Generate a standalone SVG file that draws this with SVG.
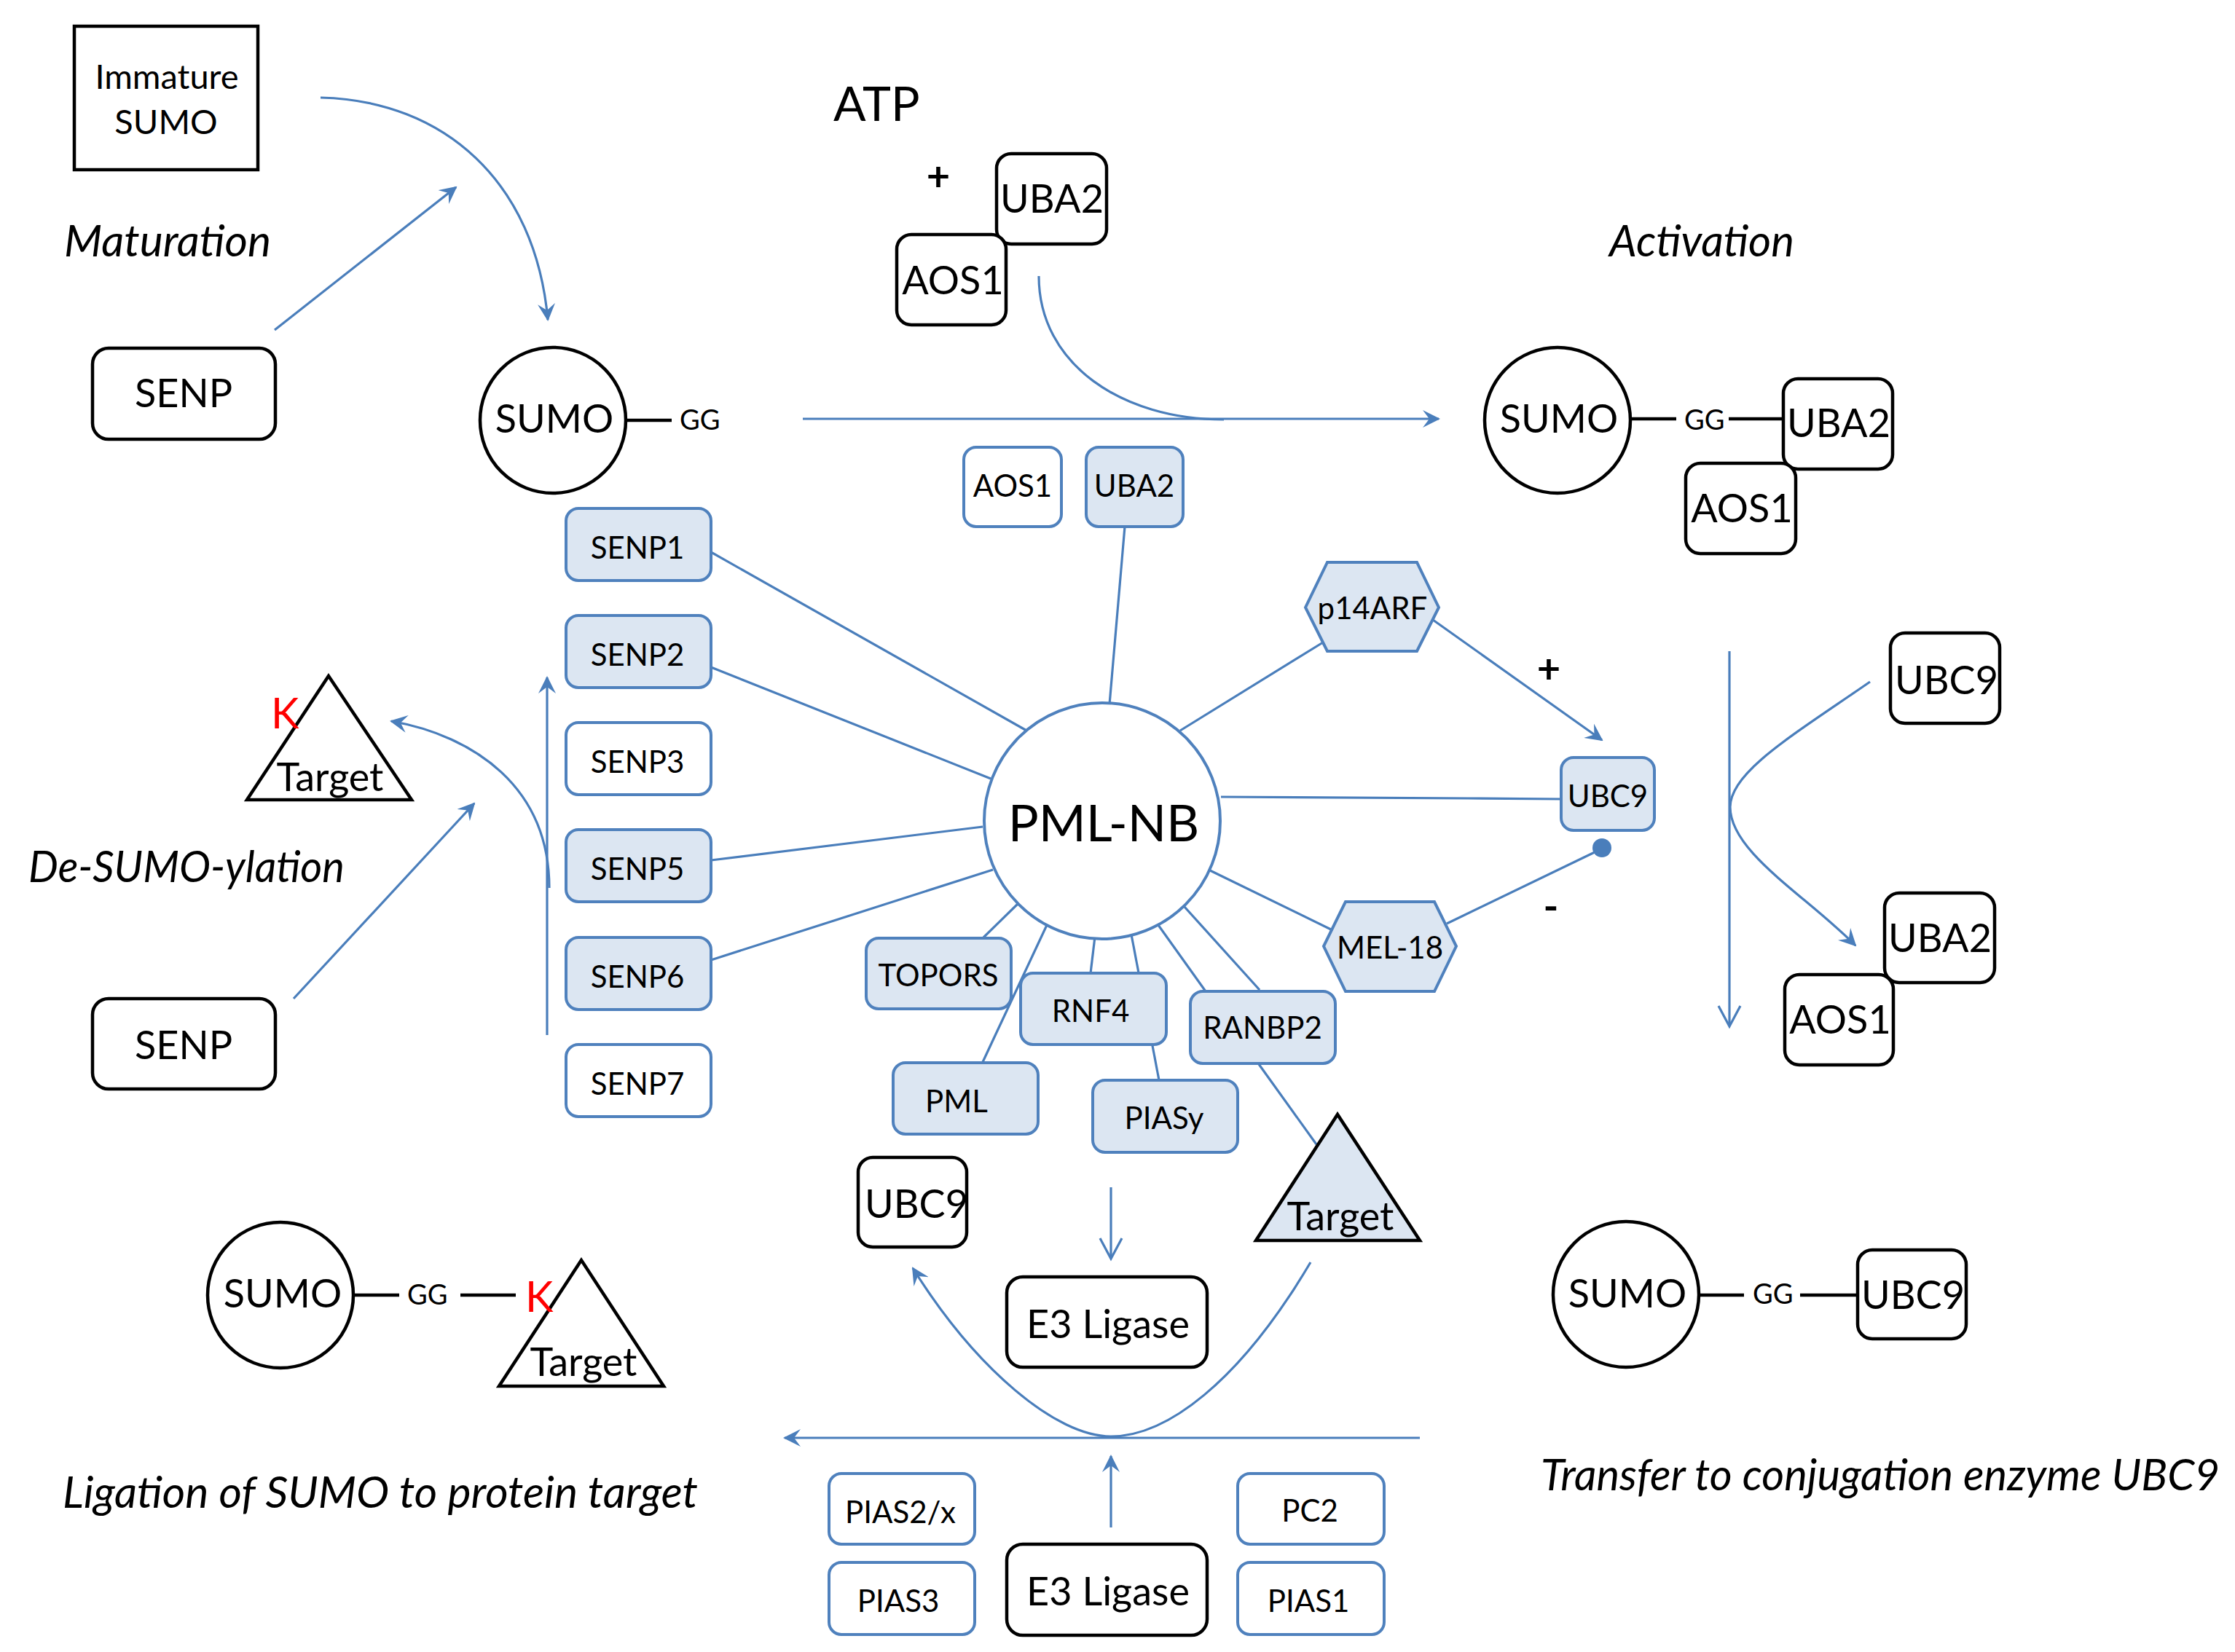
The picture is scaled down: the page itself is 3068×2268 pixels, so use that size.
<svg xmlns="http://www.w3.org/2000/svg" width="3068" height="2268" viewBox="0 0 3068 2268">
<defs>
<style>
text{font-family:Lato,"Liberation Sans",sans-serif;fill:#000}
.big{font-size:54px}
.sm{font-size:42px}
.gg{font-size:38px}
.it{font-size:60px;font-style:italic}
.k{font-size:58px;fill:#ff0000}
.c{text-anchor:middle}
.bk{fill:#fff;stroke:#000;stroke-width:4.5}
.bl{fill:#dce6f2;stroke:#4f81bd;stroke-width:4}
.bw{fill:#fff;stroke:#4f81bd;stroke-width:4}
.ln{fill:none;stroke:#4a7ebb;stroke-width:3.2}
.kl{fill:none;stroke:#000;stroke-width:4.5}
.ar{marker-end:url(#st)}
.ao{marker-end:url(#op)}
</style>
<marker id="st" viewBox="0 0 24 24" refX="22" refY="12" markerWidth="24" markerHeight="24" markerUnits="userSpaceOnUse" orient="auto">
<path d="M0,0 L24,12 L0,24 L9,12 Z" fill="#4a7ebb"/>
</marker>
<marker id="op" viewBox="-2 -2 34 34" refX="28" refY="15" markerWidth="34" markerHeight="34" markerUnits="userSpaceOnUse" orient="auto">
<path d="M0,0 L28,15 L0,30" fill="none" stroke="#4a7ebb" stroke-width="3.2"/>
</marker>
</defs>
<rect width="3068" height="2268" fill="#fff"/>

<g id="connectors">
<path class="ln ar" d="M440,134 C610,138 735,250 752,439"/>
<path class="ln ar" d="M377,453 L626,257"/>
<path class="ln ar" d="M1102,575 L1975,575"/>
<path class="ln" d="M1426,379 C1426,500 1540,576 1680,576"/>
<path class="ln" d="M976,758 L1411,1004"/>
<path class="ln" d="M976,916 L1360,1069"/>
<path class="ln" d="M976,1181 L1349,1135"/>
<path class="ln" d="M976,1318 L1363,1194"/>
<path class="ln" d="M1544,723 L1523,967"/>
<path class="ln" d="M1620,1003 L1816,882"/>
<path class="ln ar" d="M1967,851 L2199,1016"/>
<path class="ln" d="M1676,1094 L2015,1096 L2143,1097"/>
<path class="ln" d="M1661,1195 L1827,1276"/>
<path class="ln" d="M1986,1268 L2191,1169"/>
<circle cx="2199" cy="1164" r="13" fill="#4a7ebb"/>
<path class="ln" d="M1397,1241 L1350,1287"/>
<path class="ln" d="M1437,1270 L1349,1458"/>
<path class="ln" d="M1503,1286 L1497,1336"/>
<path class="ln" d="M1553,1283 L1591,1483"/>
<path class="ln" d="M1590,1270 L1655,1361"/>
<path class="ln" d="M1626,1245 L1729,1359"/>
<path class="ln" d="M1728,1461 L1807,1571"/>
<path class="ln ao" d="M2374,894 L2374,1409"/>
<path class="ln ar" d="M2567,936 C2460,1010 2375,1060 2375,1108 C2375,1170 2480,1230 2547,1298"/>
<path class="ln ar" d="M751,1421 L751,930"/>
<path class="ln ar" d="M754,1219 C754,1080 650,1010 537,990"/>
<path class="ln ar" d="M403,1371 L651,1103"/>
<path class="ln ao" d="M1525,1630 L1525,1728"/>
<path class="ln ar" d="M1799,1733 C1700,1900 1600,1972 1525,1972 C1450,1972 1340,1880 1253,1741"/>
<path class="ln ar" d="M1949,1974 L1077,1974"/>
<path class="ln ar" d="M1525,2097 L1525,1999"/>
</g>

<g id="labels">
<text class="it" x="88" y="352" textLength="284" lengthAdjust="spacingAndGlyphs">Maturation</text>
<text class="it" x="2209" y="352" textLength="254" lengthAdjust="spacingAndGlyphs">Activation</text>
<text class="it" x="39" y="1211" textLength="434" lengthAdjust="spacingAndGlyphs">De-SUMO-ylation</text>
<text class="it" x="86" y="2070" textLength="872" lengthAdjust="spacingAndGlyphs">Ligation of SUMO to protein target</text>
<text class="it" x="2115" y="2046" textLength="932" lengthAdjust="spacingAndGlyphs">Transfer to conjugation enzyme UBC9</text>
<text x="1144" y="166" style="font-size:66px">ATP</text>
<text class="c" x="1288" y="262" style="font-size:56px;font-weight:bold">+</text>
<text class="c" x="2126" y="938" style="font-size:56px;font-weight:bold">+</text>
<text class="c" x="2129" y="1264" style="font-size:56px;font-weight:bold">-</text>
</g>

<g id="immature-sumo">
<rect x="102" y="36" width="252" height="197" fill="#fff" stroke="#000" stroke-width="4.5"/>
<text class="c" x="229" y="122" style="font-size:47px">Immature</text>
<text class="c" x="228" y="184" style="font-size:47px">SUMO</text>
</g>
<g id="senp-top">
<rect class="bk" x="127" y="478" width="251" height="125" rx="22"/>
<text class="big c" x="252" y="559">SENP</text>
</g>
<g id="sumo-gg">
<path class="kl" d="M859,577 L922,577"/>
<circle class="bk" cx="759" cy="577" r="100"/>
<text class="big c" x="761" y="594">SUMO</text>
<text class="gg" x="933" y="590">GG</text>
</g>
<g id="uba2-top">
<rect class="bk" x="1368" y="211" width="151" height="124" rx="20"/>
<text class="big c" x="1444" y="292">UBA2</text>
</g>
<g id="aos1-top">
<rect class="bk" x="1231" y="322" width="150" height="124" rx="20"/>
<text class="big c" x="1308" y="404">AOS1</text>
</g>
<g id="aos1-nb">
<rect class="bw" x="1323" y="614" width="134" height="109" rx="17"/>
<text class="sm c" x="1390" y="682">AOS1</text>
</g>
<g id="uba2-nb">
<rect class="bl" x="1491" y="614" width="133" height="109" rx="17"/>
<text class="sm c" x="1557" y="682">UBA2</text>
</g>

<g id="sumo-uba2-aos1">
<path class="kl" d="M2238,575 L2301,575 M2373,575 L2448,575"/>
<circle class="bk" cx="2138" cy="577" r="100"/>
<text class="big c" x="2140" y="594">SUMO</text>
<text class="gg" x="2312" y="590">GG</text>
<rect class="bk" x="2448" y="520" width="150" height="124" rx="20"/>
<text class="big c" x="2524" y="600">UBA2</text>
<rect class="bk" x="2314" y="636" width="151" height="124" rx="20"/>
<text class="big c" x="2391" y="717">AOS1</text>
</g>

<g id="senp1"><rect class="bl" x="777" y="698" width="199" height="99" rx="17"/><text class="sm c" x="875" y="767">SENP1</text></g>
<g id="senp2"><rect class="bl" x="777" y="845" width="199" height="99" rx="17"/><text class="sm c" x="875" y="914">SENP2</text></g>
<g id="senp3"><rect class="bw" x="777" y="992" width="199" height="99" rx="17"/><text class="sm c" x="875" y="1061">SENP3</text></g>
<g id="senp5"><rect class="bl" x="777" y="1139" width="199" height="99" rx="17"/><text class="sm c" x="875" y="1208">SENP5</text></g>
<g id="senp6"><rect class="bl" x="777" y="1287" width="199" height="99" rx="17"/><text class="sm c" x="875" y="1356">SENP6</text></g>
<g id="senp7"><rect class="bw" x="777" y="1434" width="199" height="99" rx="17"/><text class="sm c" x="875" y="1503">SENP7</text></g>

<g id="target-desumo">
<path class="bk" d="M451,928 L339,1098 L565,1098 Z"/>
<text class="big c" x="453" y="1086">Target</text>
<text class="k" x="372" y="1000">K</text>
</g>
<g id="senp-bottom">
<rect class="bk" x="127" y="1371" width="251" height="124" rx="22"/>
<text class="big c" x="252" y="1454">SENP</text>
</g>

<g id="pml-nb">
<circle cx="1513" cy="1127" r="162" fill="#fff" stroke="#4f81bd" stroke-width="4"/>
<text class="c" x="1515" y="1155" style="font-size:70px">PML-NB</text>
</g>
<g id="p14arf">
<path class="bl" d="M1822,772 L1945,772 L1975,834 L1945,894 L1822,894 L1792,834 Z"/>
<text class="sm c" x="1884" y="850">p14ARF</text>
</g>
<g id="mel18">
<path class="bl" d="M1847,1238 L1969,1238 L1999,1299 L1969,1361 L1847,1361 L1817,1299 Z"/>
<text class="sm c" x="1908" y="1316">MEL-18</text>
</g>
<g id="ubc9-nb"><rect class="bl" x="2143" y="1040" width="128" height="100" rx="17"/><text class="sm c" x="2207" y="1108">UBC9</text></g>
<g id="topors"><rect class="bl" x="1189" y="1288" width="199" height="97" rx="17"/><text class="sm c" x="1288" y="1354">TOPORS</text></g>
<g id="rnf4"><rect class="bl" x="1401" y="1336" width="200" height="98" rx="17"/><text class="sm c" x="1497" y="1403">RNF4</text></g>
<g id="ranbp2"><rect class="bl" x="1634" y="1361" width="199" height="99" rx="17"/><text class="sm c" x="1733" y="1426">RANBP2</text></g>
<g id="pml"><rect class="bl" x="1226" y="1459" width="199" height="98" rx="17"/><text class="sm c" x="1313" y="1527">PML</text></g>
<g id="piasy"><rect class="bl" x="1500" y="1483" width="199" height="99" rx="17"/><text class="sm c" x="1598" y="1550">PIASy</text></g>
<g id="target-nb">
<path d="M1836,1530 L1724,1703 L1949,1703 Z" fill="#dce6f2" stroke="#000" stroke-width="4.5"/>
<text class="big c" x="1840" y="1689">Target</text>
</g>

<g id="ubc9-right">
<rect class="bk" x="2595" y="869" width="150" height="124" rx="20"/>
<text class="big c" x="2672" y="953">UBC9</text>
</g>
<g id="uba2-right">
<rect class="bk" x="2587" y="1226" width="151" height="123" rx="20"/>
<text class="big c" x="2663" y="1307">UBA2</text>
</g>
<g id="aos1-right">
<rect class="bk" x="2450" y="1338" width="149" height="124" rx="20"/>
<text class="big c" x="2526" y="1419">AOS1</text>
</g>

<g id="ubc9-mid">
<rect class="bk" x="1178" y="1589" width="149" height="123" rx="20"/>
<text class="big c" x="1258" y="1672">UBC9</text>
</g>
<g id="e3-upper">
<rect class="bk" x="1382" y="1753" width="275" height="124" rx="22"/>
<text class="big c" x="1521" y="1837">E3 Ligase</text>
</g>
<g id="e3-lower">
<rect class="bk" x="1382" y="2120" width="275" height="125" rx="22"/>
<text class="big c" x="1521" y="2204">E3 Ligase</text>
</g>
<g id="pias2x"><rect class="bw" x="1138" y="2023" width="200" height="97" rx="17"/><text class="sm c" x="1236" y="2091">PIAS2/x</text></g>
<g id="pias3"><rect class="bw" x="1138" y="2145" width="200" height="99" rx="17"/><text class="sm c" x="1233" y="2213">PIAS3</text></g>
<g id="pc2"><rect class="bw" x="1699" y="2023" width="201" height="97" rx="17"/><text class="sm c" x="1798" y="2089">PC2</text></g>
<g id="pias1"><rect class="bw" x="1699" y="2145" width="201" height="99" rx="17"/><text class="sm c" x="1796" y="2213">PIAS1</text></g>

<g id="sumo-target">
<path class="kl" d="M484,1778 L548,1778 M632,1778 L708,1778"/>
<circle class="bk" cx="385" cy="1778" r="100"/>
<text class="big c" x="388" y="1795">SUMO</text>
<text class="gg" x="559" y="1791">GG</text>
<path class="bk" d="M798,1730 L685,1903 L911,1903 Z"/>
<text class="big c" x="801" y="1889">Target</text>
<text class="k" x="721" y="1801">K</text>
</g>

<g id="sumo-ubc9">
<path class="kl" d="M2332,1778 L2394,1778 M2471,1778 L2550,1778"/>
<circle class="bk" cx="2232" cy="1777" r="100"/>
<text class="big c" x="2234" y="1795">SUMO</text>
<text class="gg" x="2406" y="1790">GG</text>
<rect class="bk" x="2550" y="1716" width="149" height="122" rx="20"/>
<text class="big c" x="2626" y="1797">UBC9</text>
</g>
</svg>
